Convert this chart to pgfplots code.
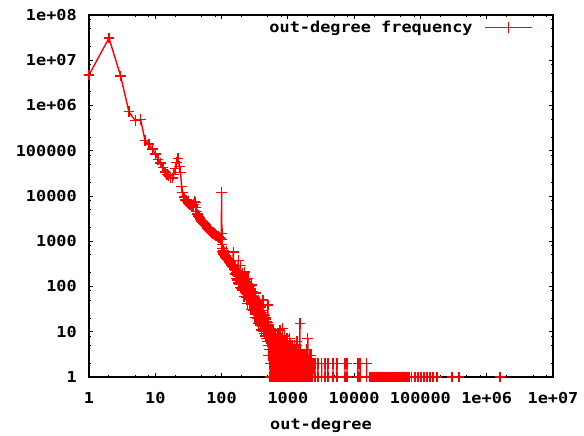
\documentclass[border=0pt]{standalone}
\usepackage{fontspec}
\usepackage{pgfplots}
\pgfplotsset{compat=1.18}
\newfontfamily\gp[FakeStretch=1.12]{DejaVu Sans Mono}
\newcommand\gpf{\gp\bfseries\fontsize{11.3pt}{13pt}\selectfont}
\begin{document}
\begin{tikzpicture}
\begin{axis}[
 scale only axis, width=348pt, height=271.5pt,
 xmode=log, ymode=log, xmin=1, xmax=10000000, ymin=1, ymax=100000000,
 axis on top,
 axis line style={line width=0.9pt, black},
 tick align=inside, xtick pos=both, ytick pos=both,
 major tick length=3pt, minor tick length=1.5pt,
 tick style={black, line width=0.7pt},
 xtick={1,10,100,1000,10000,100000,1000000,10000000},
 xticklabels={1,10,100,1000,10000,100000,1e+06,1e+07},
 ytick={1,10,100,1000,10000,100000,1000000,10000000,100000000},
 yticklabels={1,10,100,1000,10000,100000,1e+06,1e+07,1e+08},
 minor xtick={2,5,8,20,50,80,200,500,800,2000,5000,8000,20000,50000,80000,200000,500000,800000,2000000,5000000,8000000},
 minor ytick={2,5,8,20,50,80,200,500,800,2000,5000,8000,20000,50000,80000,200000,500000,800000,2000000,5000000,8000000,20000000,50000000,80000000},
 xticklabel style={font=\gpf, anchor=base, inner sep=0pt, yshift=-19.5pt},
 yticklabel style={font=\gpf, anchor=east, inner sep=0pt, xshift=-9pt},
 xlabel={out-degree},
 xlabel style={font=\gpf, at={(axis description cs:0.5,0)}, anchor=base, inner sep=0pt, yshift=-39pt},
 legend style={draw=none, fill=none, at={(1,1)}, anchor=north east, xshift=-15pt, yshift=-4pt, font=\gpf, inner sep=0pt, nodes={inner sep=0pt}, column sep=9pt},
 legend plot pos=right,
 legend image code/.code={\draw[mark repeat=2,mark phase=2,#1] plot coordinates {(0pt,0pt) (17.5pt,0pt) (35pt,0pt)};},
]
\coordinate (SW) at (rel axis cs:0,0);
\coordinate (NE) at (rel axis cs:1,1);
\addplot[color=red, line width=1.05pt, mark=+, mark size=4pt, mark options={draw=red, line width=1pt, solid}] table {
x y
1 4700000
2 31000000
3 4500000
4 730000
5 460000
6 490000
7 170000
8 140000
9 110000
10 85000
11 65000
12 54000
13 42000
14 34000
15 30000
16 28000
17 26000
18 25000
19 30000
20 40000
21 55000
22 68000
23 45000
24 33000
25 16000
26 12000
27 9500
28 8200
29 8000
30 7500
31 7000
32 6800
33 6600
34 6500
35 6600
36 6200
37 6000
38 6500
39 7500
40 7200
41 5500
42 4500
43 4000
44 3800
45 3500
46 3300
47 3100
48 3000
49 2900
50 2800
51 2700
52 2650
53 2550
54 2450
55 2400
56 2300
57 2250
58 2150
59 2100
60 2000
61 1950
62 1900
63 1950
64 1850
65 1800
66 1750
67 1800
68 1700
69 1650
70 1600
71 1570
72 1550
73 1580
74 1500
75 1480
76 1450
77 1470
78 1420
79 1400
80 1420
81 1380
82 1350
83 1370
84 1320
85 1300
86 1290
87 1270
88 1250
89 1270
90 1240
91 1220
92 1200
93 1210
94 1180
95 1170
96 1150
97 1120
98 1100
99 1080
100 12000
101 1500
102 850
103 700
104 600
105 560
106 540
107 620
108 520
109 500
110 560
111 480
112 500
113 460
114 470
115 450
116 440
117 480
118 430
119 420
120 600
122 400
124 420
126 380
128 370
130 400
132 350
134 340
136 330
138 350
140 300
142 310
144 290
146 280
148 300
150 580
152 260
154 270
156 240
158 250
160 230
162 190
164 240
166 150
168 200
170 220
172 140
174 180
176 200
178 380
180 170
182 120
184 165
186 150
188 110
190 160
192 290
194 95
196 145
198 90
200 150
202 146
205 84
208 200
211 103
214 162
217 60
220 208
223 100
226 76
229 146
232 100
235 58
238 141
241 72
244 113
247 42
250 148
253 71
256 54
259 105
262 72
265 42
268 102
271 53
274 83
277 31
280 108
283 52
286 40
289 77
292 54
295 31
298 76
300 50
304 29
308 70
312 36
316 56
320 21
324 72
328 34
332 26
336 50
340 35
344 20
348 48
352 25
356 39
360 15
364 50
368 24
372 18
376 36
380 25
384 14
388 35
392 18
396 29
400 11
404 38
408 18
412 13
416 27
420 50
424 18
428 10
432 24
436 16
440 9
444 23
448 12
452 10
456 20
460 14
464 8
468 19
472 10
476 7
480 17
484 11
488 6
492 16
496 8
500 39
502 6
505 9
507 12
510 5
512 3
515 14
517 8
520 7
522 10
525 3
527 4
530 10
532 7
535 6
537 2
540 1
542 9
545 12
547 5
550 4
552 1
555 8
557 10
560 3
562 6
565 11
567 2
570 5
572 8
575 1
577 4
580 9
582 7
585 6
587 1
590 2
592 5
595 10
597 8
600 4
602 3
605 7
607 6
610 1
612 9
615 8
617 2
620 5
622 7
625 3
627 1
630 9
632 5
635 2
637 8
640 6
642 3
645 1
647 6
650 8
652 2
655 4
657 7
660 7
662 1
665 2
667 5
670 5
672 3
675 1
677 6
680 7
682 2
685 3
687 4
690 9
692 1
695 4
697 6
700 1
702 3
705 6
707 5
710 3
712 1
715 8
717 4
720 2
722 6
725 5
727 2
730 1
732 3
735 7
737 1
740 3
742 5
745 4
747 2
750 1
752 4
755 6
757 1
760 2
762 3
765 11
767 6
770 3
772 2
775 5
777 1
780 1
782 4
785 4
787 3
790 2
792 1
795 7
797 5
800 3
802 2
805 1
807 3
810 5
812 1
815 2
817 4
820 4
822 2
825 1
827 6
830 12
832 1
835 3
837 3
840 2
842 5
845 6
847 2
850 1
852 1
855 4
857 3
860 2
862 4
865 3
867 1
870 1
872 2
875 5
877 3
880 2
882 1
885 8
887 4
890 1
892 2
895 3
897 1
900 2
902 5
905 4
907 2
910 1
912 3
915 6
917 1
920 2
922 2
925 3
927 4
930 1
932 1
935 5
937 2
940 2
942 3
945 1
947 1
950 4
952 2
955 2
957 5
960 3
962 1
965 1
967 2
970 7
972 3
975 2
977 1
980 1
982 2
985 3
987 4
990 2
992 1
995 1
997 2
1000 4
1005 3
1010 2
1015 1
1020 1
1025 2
1030 5
1035 4
1040 2
1045 1
1050 3
1055 2
1060 1
1065 3
1070 7
1075 1
1080 2
1085 5
1090 1
1095 2
1100 4
1105 1
1110 2
1115 3
1120 1
1125 2
1130 3
1135 1
1140 2
1145 4
1150 5
1155 2
1160 1
1165 1
1170 2
1175 3
1180 3
1185 2
1190 1
1195 1
1200 4
1205 3
1210 2
1215 1
1220 1
1225 2
1230 3
1235 4
1240 2
1245 1
1250 1
1255 2
1260 5
1265 3
1270 2
1275 1
1280 1
1285 2
1290 3
1295 4
1300 2
1305 1
1310 1
1315 2
1320 4
1325 3
1330 1
1335 1
1340 2
1345 5
1350 3
1355 2
1360 1
1365 1
1370 6
1375 3
1380 2
1385 1
1390 1
1395 2
1400 3
1410 1
1420 2
1430 3
1440 1
1450 1
1460 4
1470 2
1480 2
1490 3
1500 1
1510 1
1520 15
1530 2
1540 2
1550 4
1560 1
1570 1
1580 3
1590 2
1600 2
1610 3
1620 1
1630 1
1640 3
1650 2
1660 1
1670 3
1680 2
1690 1
1700 1
1710 2
1720 3
1730 1
1740 2
1750 3
1760 1
1770 1
1780 2
1790 2
1800 1
1810 1
1820 3
1830 2
1840 1
1850 3
1860 2
1870 1
1880 1
1890 2
1900 4
1910 1
1920 1
1930 3
1940 2
1950 1
1960 1
1970 2
1980 3
1990 1
2000 7
2020 1
2050 2
2080 1
2110 3
2140 1
2170 2
2200 1
2240 3
2280 1
2320 2
2360 1
2400 2
2569 1
2570 2
2571 1
2839 1
2840 2
2841 1
3249 1
3250 2
3251 1
3649 1
3650 2
3651 1
4019 1
4020 2
4021 1
4799 1
4800 2
4801 1
5499 1
5500 2
5501 1
7269 1
7270 2
7271 1
7799 1
7800 2
7801 1
11399 1
11400 2
11401 1
12299 1
12300 2
12301 1
15499 1
15500 2
15501 1
17000 1
18000 1
19000 1
19500 1
20000 1
20500 1
21000 1
21500 1
22000 1
22500 1
23000 1
23500 1
24000 1
24500 1
25000 1
25500 1
26000 1
26500 1
27000 1
27500 1
28000 1
28500 1
29000 1
29500 1
30000 1
31000 1
32000 1
33000 1
34000 1
35000 1
36000 1
37000 1
38000 1
39000 1
40000 1
41000 1
42000 1
43000 1
44000 1
45000 1
46000 1
47000 1
48000 1
49000 1
50000 1
51000 1
52000 1
53000 1
54000 1
55000 1
56000 1
57000 1
58000 1
59000 1
60000 1
61000 1
62000 1
63000 1
64000 1
65000 1
66000 1
67000 1
68000 1
69000 1
74000 1
83000 1
92000 1
102000 1
113000 1
126000 1
140000 1
155000 1
178000 1
300000 1
380000 1
1580000 1
};
\addlegendentry{out-degree frequency}
\end{axis}
\pgfresetboundingbox
\path[use as bounding box] ([shift={(-66.75pt,-43.5pt)}]SW) rectangle ([shift={(23.25pt,11.25pt)}]NE);
\end{tikzpicture}
\end{document}
